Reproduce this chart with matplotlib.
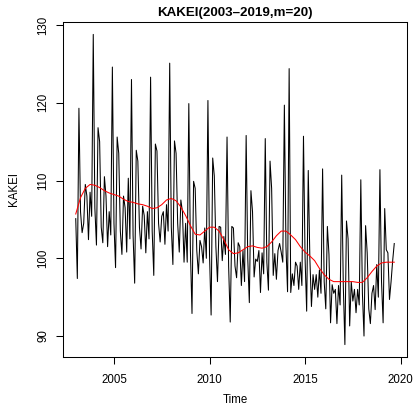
import numpy as np
import matplotlib
matplotlib.use("Agg")
import matplotlib.pyplot as plt

plt.rcParams['font.family'] = ['Liberation Sans', 'DejaVu Sans']

# monthly index, Jan 2003 .. Sep 2019
kakei = [
    105.1, 97.4, 119.3, 106.0, 103.3, 104.5, 109.5, 108.0, 102.4, 108.5, 105.4, 128.8,  # 2003
    106.5, 101.7, 116.8, 115.0, 104.0, 102.0, 110.5, 108.0, 101.5, 106.0, 103.0, 124.6,  # 2004
    104.5, 98.8, 115.6, 113.5, 103.5, 100.5, 108.0, 106.5, 100.8, 110.3, 102.5, 123.0,  # 2005
    103.0, 96.8, 113.9, 112.5, 104.0, 101.2, 106.7, 105.5, 100.7, 106.0, 102.5, 123.3,  # 2006
    103.5, 97.8, 114.7, 113.8, 104.5, 102.1, 105.4, 106.0, 101.8, 106.9, 103.5, 125.1,  # 2007
    104.0, 99.2, 115.1, 113.5, 104.5, 100.8, 107.5, 106.0, 99.5, 104.5, 99.5, 119.9,  # 2008
    101.0, 92.9, 109.9, 109.0, 101.0, 98.0, 102.3, 101.5, 99.4, 103.9, 100.0, 120.3,  # 2009
    100.5, 92.7, 112.9, 110.6, 101.5, 97.0, 104.1, 104.0, 99.7, 102.8, 100.5, 115.6,  # 2010
    99.0, 91.8, 104.1, 103.9, 99.0, 97.5, 102.0, 101.5, 96.5, 101.0, 97.0, 115.8,  # 2011
    100.0, 94.3, 108.7, 106.0, 97.6, 99.9, 99.6, 101.0, 95.6, 100.7, 98.0, 115.4,  # 2012
    99.5, 95.9, 112.5, 109.0, 97.8, 100.6, 97.3, 101.0, 101.9, 100.8, 99.5, 119.7,  # 2013
    101.5, 95.7, 124.4, 95.6, 98.0, 96.5, 99.5, 99.0, 96.0, 99.5, 96.5, 115.7,  # 2014
    100.0, 93.2, 111.3, 100.0, 93.8, 97.9, 96.0, 97.9, 95.0, 98.5, 95.5, 111.5,  # 2015
    97.0, 93.5, 104.1, 100.5, 91.7, 96.6, 95.5, 96.0, 91.6, 96.5, 94.0, 110.7,  # 2016
    96.5, 88.9, 104.8, 102.5, 91.3, 97.0, 94.5, 96.0, 93.0, 96.0, 94.0, 110.1,  # 2017
    95.5, 90.0, 104.2, 100.7, 93.5, 91.6, 95.5, 96.5, 93.4, 99.2, 95.0, 111.4,  # 2018
    97.0, 91.7, 106.4, 101.1, 100.7, 94.7, 97.0, 99.7, 101.9,  # 2019
]
start_year = 2003

# estimated trend (red), quarterly from 2003.00, last value at Sep 2019
trend = [
    105.7, 107.8, 109.0, 109.5, 109.4, 109.1, 108.7, 108.4,
    108.2, 108.0, 107.6, 107.3, 107.2, 107.0, 106.9, 106.7,
    106.4, 106.5, 106.9, 107.5, 107.7, 107.4, 106.6, 105.5,
    104.2, 103.1, 103.0, 103.5, 104.0, 104.0, 103.5, 102.4,
    101.1, 100.6, 100.7, 101.1, 101.5, 101.6, 101.4, 101.3,
    101.5, 102.1, 102.9, 103.5, 103.5, 103.0, 102.4, 101.5,
    100.8, 100.3, 99.7, 98.7, 97.9, 97.3, 97.0, 97.0,
    97.0, 97.0, 97.0, 96.9, 96.9, 97.5, 98.3, 99.0,
    99.4, 99.5, 99.5, 99.5,
]

t = start_year + np.arange(len(kakei)) / 12
t_trend = np.append(start_year + np.arange(len(trend) - 1) / 4, t[-1])

fig = plt.figure(figsize=(4.14, 4.15), dpi=100)
ax = fig.add_axes([63 / 414, 58 / 415, 344 / 414, 335 / 415])

ax.plot(t, kakei, color='black', lw=0.75)
ax.plot(t_trend, trend, color='red', lw=0.75)

# R-style 4% padding
span = t[-1] - t[0]
ax.set_xlim(t[0] - 0.04 * span, t[-1] + 0.04 * span)
yr = max(kakei) - min(kakei)
ax.set_ylim(min(kakei) - 0.04 * yr, max(kakei) + 0.04 * yr)

ax.set_xticks([2005, 2010, 2015, 2020])
ax.set_yticks([90, 100, 110, 120, 130])
ax.tick_params(direction='out', length=5, width=0.75, labelsize=8.3, color='black')
ax.tick_params(axis='x', pad=7)
ax.tick_params(axis='y', pad=5)
for lab in ax.get_yticklabels():
    lab.set_rotation(90)
    lab.set_va('center')
for s in ax.spines.values():
    s.set_linewidth(0.75)

ax.set_title('KAKEI(2003\u20132019,m=20)', fontsize=9.6, fontweight='bold', pad=4)
ax.set_xlabel('Time', fontsize=8.3, labelpad=6)
ax.set_ylabel('KAKEI', fontsize=8.3, labelpad=12)

fig.savefig('out.png', dpi=100)
